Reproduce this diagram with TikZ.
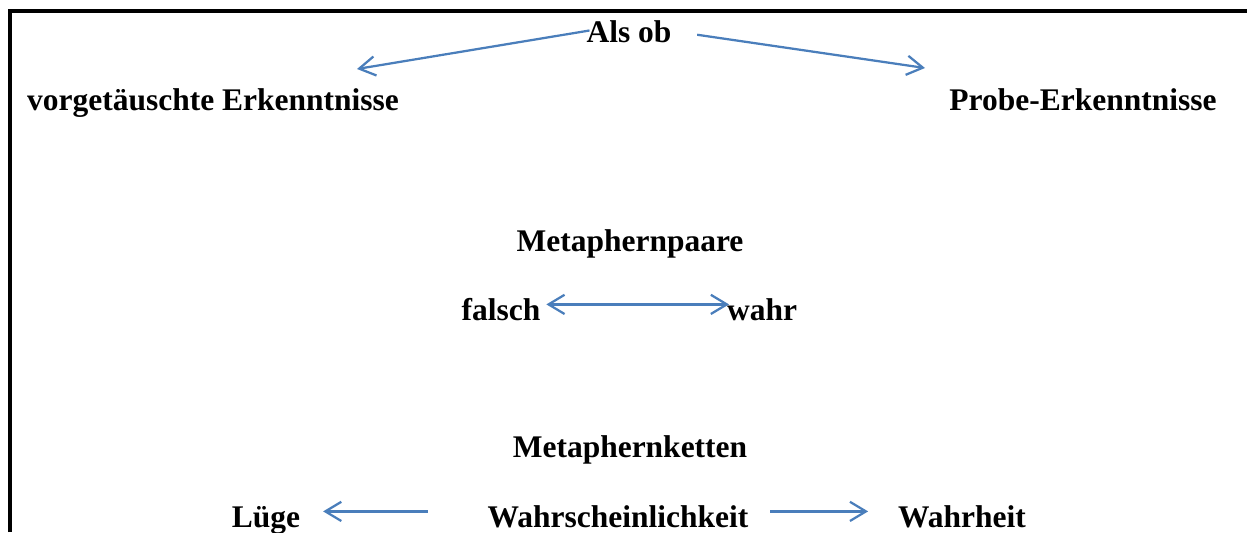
\documentclass[tikz,border=0pt]{standalone}
\usepackage{fontspec}
\setmainfont{Liberation Serif}
\usetikzlibrary{arrows.meta, positioning, calc}
\definecolor{linkblue}{HTML}{4A7EBB}
\definecolor{inkblack}{HTML}{000000}

\begin{document}
\begin{tikzpicture}[>={Straight Barb[length=4mm, width=4.8mm]},
  word/.style={font=\fontsize{22.4}{26}\selectfont\bfseries, text=inkblack,
    anchor=base, inner sep=0pt, outer sep=0pt, text height=0.78cm, text depth=0pt},
  link/.style={->, linkblue, line width=1.6pt}]

% Canvas and frame (only left and top edges visible)
\useasboundingbox (0,0) rectangle (31.175,13.3);
\draw[inkblack, line width=2.4pt] (0.25,0) -- (0.25,13.025) -- (31.175,13.025);

% ========== Als ob ==========
\node[word] (alsob) at (15.725,12.225) {Als ob};
\node[word] (vorg)  at (5.325,10.525)  {vorgetäuschte Erkenntnisse};
\node[word] (probe) at (27.075,10.525) {Probe-Erkenntnisse};

\coordinate (vorgtip)  at (8.925,11.575);
\coordinate (probetip) at (23.125,11.6);

\draw[link, shorten <=-0.075cm] ([yshift=-0.09cm]alsob.west) -- (vorgtip);
\draw[link, shorten <=0.65cm] ([yshift=-0.09cm]alsob.east) -- (probetip);

% ========== Metaphernpaare ==========
\node[word] (paare)  at (15.75,7.0) {Metaphernpaare};
\node[word] (falsch) at (12.525,5.3) {falsch};
\node[word] (wahr)   at (19.05,5.3)  {wahr};

\draw[link, <->, shorten <=0.15cm, shorten >=-0.05cm] (falsch.east) -- (wahr.west);

% ========== Metaphernketten ==========
\node[word] (ketten)   at (15.75,1.875) {Metaphernketten};
\node[word] (luege)    at (6.65,0.125)  {Lüge};
\node[word] (wahrsch)  at (15.45,0.125) {Wahrscheinlichkeit};
\node[word] (wahrheit) at (24.05,0.125) {Wahrheit};

\draw[link, shorten <=1.5cm, shorten >=0.575cm] (wahrsch.west) -- (luege.east);
\draw[link, shorten <=0.55cm, shorten >=0.75cm] (wahrsch.east) -- (wahrheit.west);

\end{tikzpicture}
\end{document}
